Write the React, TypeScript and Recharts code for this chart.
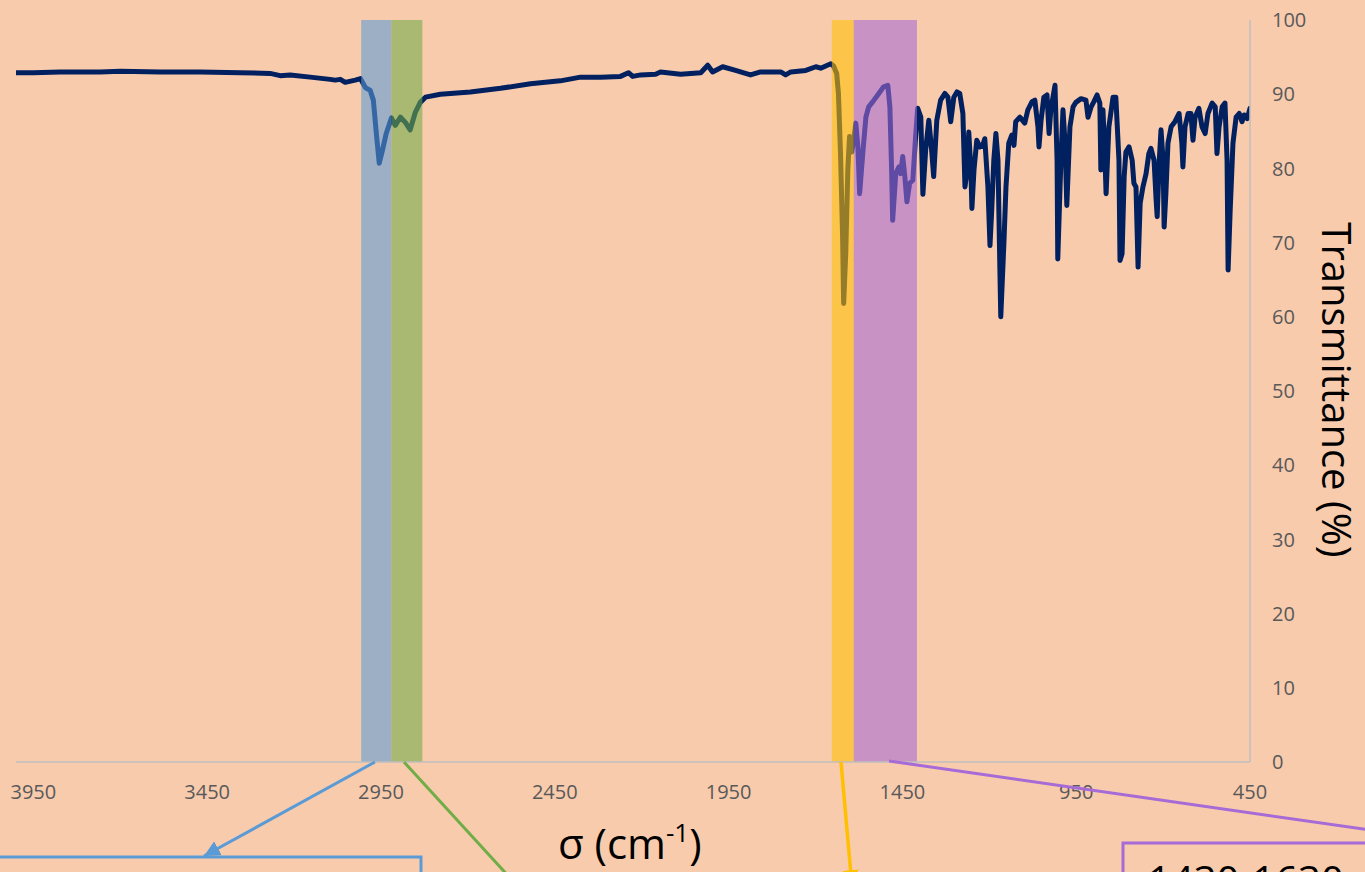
import React from "react";
import { LineChart, Line, XAxis, YAxis, ReferenceArea } from "recharts";

// IR spectrum: wavenumber (cm-1) and transmittance (%)
const wavenumber = [
  4000, 3950, 3873, 3758, 3700, 3585, 3470, 3355, 3269, 3240, 3211, 3154, 3096, 3082, 3067, 3053, 3024, 3009,
  2995, 2981, 2972, 2963, 2955, 2946, 2935, 2920, 2909, 2894, 2880, 2866, 2851, 2837, 2822, 2779, 2693, 2606,
  2520, 2434, 2376, 2318, 2261, 2238, 2226, 2203, 2160, 2146, 2088, 2030, 2010, 1996, 1967, 1930, 1887, 1858,
  1800, 1786, 1771, 1728, 1699, 1685, 1656, 1648, 1639, 1634, 1628, 1622, 1619, 1613, 1607, 1602, 1596, 1590,
  1584, 1578, 1573, 1564, 1555, 1547, 1535, 1521, 1504, 1492, 1486, 1481, 1478, 1469, 1460, 1455, 1449, 1443,
  1437, 1429, 1420, 1412, 1406, 1397, 1391, 1383, 1374, 1366, 1360, 1351, 1340, 1328, 1319, 1311, 1302, 1293,
  1285, 1276, 1270, 1265, 1259, 1253, 1250, 1244, 1236, 1227, 1219, 1213, 1204, 1198, 1193, 1187, 1181, 1175,
  1170, 1167, 1158, 1152, 1144, 1135, 1129, 1124, 1112, 1098, 1089, 1077, 1069, 1060, 1057, 1051, 1043, 1034,
  1028, 1023, 1011, 1005, 1003, 994, 988, 982, 977, 968, 959, 951, 936, 922, 916, 907, 899, 890, 882, 879, 873,
  867, 864, 856, 844, 836, 827, 824, 818, 812, 807, 798, 789, 784, 778, 772, 766, 758, 749, 741, 735, 726, 720,
  717, 711, 706, 700, 697, 692, 686, 677, 666, 654, 646, 643, 637, 628, 620, 614, 608, 597, 588, 579, 571, 559,
  550, 545, 539, 530, 522, 516, 513, 507, 499, 490, 481, 473, 467, 458, 450,
];

const transmittance = [
  92.9, 92.9, 93.0, 93.0, 93.1, 93.0, 93.0, 92.9, 92.8, 92.5, 92.6, 92.3, 92.0, 91.9, 92.0, 91.6, 91.9, 92.1,
  90.9, 90.5, 89.2, 84.5, 80.7, 82.4, 84.7, 86.8, 85.8, 86.9, 86.2, 85.2, 87.6, 88.9, 89.6, 90.0, 90.3, 90.8,
  91.4, 91.8, 92.3, 92.3, 92.4, 92.9, 92.4, 92.6, 92.7, 93.0, 92.7, 92.9, 93.9, 93.0, 93.7, 93.2, 92.6, 93.0,
  93.0, 92.6, 93.0, 93.2, 93.7, 93.5, 94.1, 93.8, 92.8, 90.1, 82.0, 70.8, 61.8, 68.5, 79.8, 84.3, 82.2, 83.8,
  86.1, 82.9, 76.6, 82.0, 86.9, 88.3, 89.0, 89.9, 91.0, 91.2, 88.3, 79.8, 73.0, 79.3, 80.2, 79.3, 81.6, 78.9,
  75.5, 78.0, 78.4, 84.3, 88.1, 86.9, 76.5, 82.5, 86.5, 82.5, 78.9, 86.5, 89.2, 90.1, 89.6, 86.3, 89.6, 90.3,
  90.1, 87.4, 77.5, 79.3, 84.9, 79.8, 74.6, 79.8, 83.8, 82.9, 83.1, 84.0, 77.5, 69.6, 74.4, 81.1, 84.7, 81.1,
  67.6, 60.0, 69.9, 77.5, 83.4, 84.5, 83.1, 86.3, 86.9, 86.1, 87.9, 89.0, 89.2, 85.6, 82.9, 86.5, 89.6, 89.9,
  84.7, 87.9, 91.2, 81.1, 67.8, 81.1, 87.9, 83.4, 75.0, 85.6, 88.3, 88.9, 89.4, 89.2, 86.9, 88.3, 89.0, 89.9, 88.8, 79.8, 87.9,
  81.1, 76.6, 85.6, 89.6, 89.6, 81.1, 67.6, 68.5, 78.9, 82.2, 82.9, 81.1, 78.0, 77.5, 66.7, 75.3, 77.5, 79.3, 82.0, 82.7, 81.1, 75.7,
  73.5, 81.1, 85.2, 81.1, 72.1, 76.6, 83.4, 85.6, 86.3, 87.4, 83.4, 80.2, 85.6, 87.4, 87.4, 83.8, 86.9, 88.1, 85.6, 84.7, 87.4, 88.8,
  88.3, 82.0, 85.6, 88.3, 88.8, 81.1, 66.3, 74.4, 83.4, 86.9, 87.4, 86.3, 87.2, 86.7, 88.1,
];

const xTicks = [450, 950, 1450, 1950, 2450, 2950, 3450, 3950];
const yTicks = [0, 10, 20, 30, 40, 50, 60, 70, 80, 90, 100];

// highlighted bands [from, to, colour]
const bandStarts = [3007, 2920, 1653, 1590];
const bandEnds = [2920, 2831, 1590, 1408];
const bandColors = ["#5B9BD5", "#70AD47", "#FFC000", "#A66BD6"];

const boxLabel = "1430-1630";

const data = wavenumber.map((w, i) => ({ w, t: transmittance[i] }));

const FONT = "'Open Sans', 'Liberation Sans', sans-serif";

const XTick = (props: any) => {
  const { x, y, payload } = props;
  return (
    <text x={x} y={y} dy="0.71em" textAnchor="middle" fontFamily={FONT} fontSize={20} fill="#595959">
      {payload.value}
    </text>
  );
};

const YTick = (props: any) => {
  const { x, y, payload } = props;
  return (
    <text x={x} y={y} dy="0.36em" textAnchor="start" fontFamily={FONT} fontSize={20} fill="#595959">
      {payload.value}
    </text>
  );
};

export default function App() {
  return (
    <div
      style={{
        position: "fixed",
        left: 0,
        top: 0,
        width: 1365,
        height: 872,
        background: "#F8CBAD",
        overflow: "hidden",
      }}
    >
      <div style={{ position: "absolute", left: 0, top: 0 }}>
        <LineChart width={1365} height={872} data={data} margin={{ top: 20, left: 16, right: 55, bottom: 70 }}>
          <XAxis
            dataKey="w"
            type="number"
            domain={[450, 4000]}
            reversed
            ticks={xTicks}
            interval={0}
            tickLine={false}
            tickSize={6}
            tickMargin={17}
            axisLine={{ stroke: "#BFBFBF", strokeWidth: 1.5 }}
            tick={<XTick />}
            height={40}
            allowDataOverflow
          />
          <YAxis
            orientation="right"
            type="number"
            domain={[0, 100]}
            ticks={yTicks}
            interval={0}
            tickLine={false}
            tickSize={6}
            tickMargin={16}
            axisLine={{ stroke: "#BFBFBF", strokeWidth: 1.5 }}
            tick={<YTick />}
            width={60}
          />
          <Line
            type="linear"
            dataKey="t"
            stroke="#002060"
            strokeWidth={5}
            strokeLinejoin="round"
            strokeLinecap="round"
            dot={false}
            activeDot={false}
            isAnimationActive={false}
          />
          {bandStarts.map((b, i) => (
            <ReferenceArea
              key={i}
              x1={b}
              x2={bandEnds[i]}
              y1={0}
              y2={100}
              fill={bandColors[i]}
              fillOpacity={0.58}
              stroke="none"
              zIndex={450}
            />
          ))}
        </LineChart>
      </div>
      <svg
        width={1365}
        height={872}
        style={{ position: "absolute", left: 0, top: 0, pointerEvents: "none" }}
      >
        <defs>
          <marker id="arrBlue" markerUnits="userSpaceOnUse" markerWidth="18" markerHeight="16" refX="16" refY="8" orient="auto">
            <path d="M0,0 L16,8 L0,16 Z" fill="#5B9BD5" />
          </marker>
          <marker id="arrYellow" markerUnits="userSpaceOnUse" markerWidth="18" markerHeight="16" refX="16" refY="8" orient="auto">
            <path d="M0,0 L16,8 L0,16 Z" fill="#FFC000" />
          </marker>
        </defs>
        {/* axis titles */}
        <text x={558} y={859} fontFamily={FONT} fontSize={42} fill="#000">
          σ (cm
          <tspan dy={-17} fontSize={26}>-1</tspan>
          <tspan dy={17}>)</tspan>
        </text>
        <text transform="translate(1322,390) rotate(90)" textAnchor="middle" fontFamily={FONT} fontSize={40} fill="#000">
          Transmittance (%)
        </text>
        {/* annotation connectors */}
        <line x1={375} y1={762} x2={204} y2={856} stroke="#5B9BD5" strokeWidth={3} markerEnd="url(#arrBlue)" />
        <rect x={-4} y={857} width={425} height={60} fill="none" stroke="#5B9BD5" strokeWidth={3} />
        <line x1={404} y1={762} x2={512} y2={880} stroke="#70AD47" strokeWidth={3} />
        <line x1={841} y1={762} x2={852} y2={886} stroke="#FFC000" strokeWidth={3.5} markerEnd="url(#arrYellow)" />
        <line x1={889} y1={761} x2={1370} y2={830} stroke="#A66BD6" strokeWidth={3} />
        <rect x={1123} y={843} width={300} height={80} fill="none" stroke="#A66BD6" strokeWidth={3} />
        <text x={1148} y={895} fontFamily={FONT} fontSize={40} fill="#000">
          {boxLabel}
        </text>
      </svg>
    </div>
  );
}
